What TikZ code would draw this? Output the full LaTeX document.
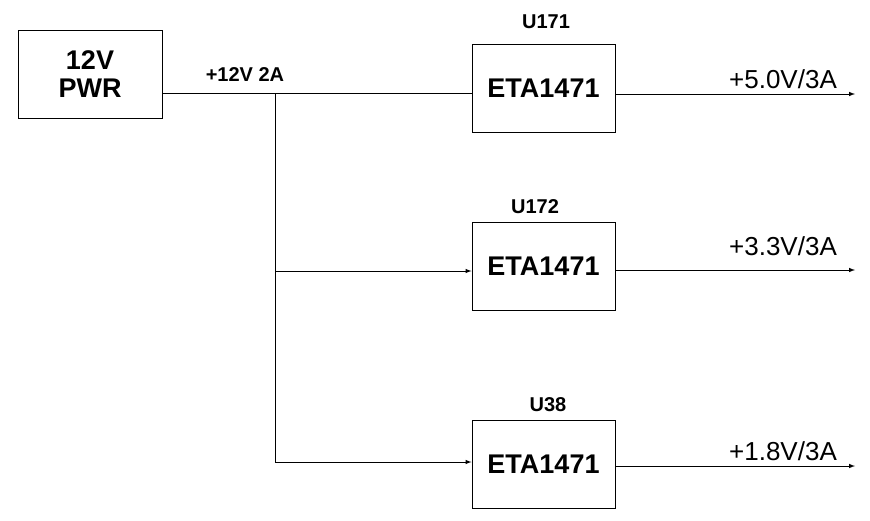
\documentclass[tikz,border=0pt]{standalone}
\usepackage{fontspec}
\setmainfont{Liberation Sans}
\usetikzlibrary{arrows, positioning}
\tikzset{
  blk/.style = {draw, line width=1pt, minimum width=143pt, minimum height=88pt, font=\fontsize{27}{30}\selectfont\bfseries},
  tag/.style = {font=\fontsize{20}{22}\selectfont\bfseries},
  vout/.style = {font=\fontsize{26}{28}\selectfont},
  link/.style = {line width=1pt},
  arr/.style = {line width=1pt, -latex}
}
\begin{document}
\begin{tikzpicture}[x=1pt, y=-1pt]
    \useasboundingbox (0,0) rectangle (870,520);
    \node[blk, minimum width=144pt, align=center, font=\fontsize{27}{28}\selectfont\bfseries] (pwr) at (90,74) {12V\\PWR};
    \node[blk] (u171) at (543.5,88) {ETA1471};
    \node[blk] (u172) at (543.5,266) {ETA1471};
    \node[blk] (u38) at (543.5,464) {ETA1471};
    \node[tag] (t171) at (546,22) {U171};
    \node[tag] (t172) at (535,207) {U172};
    \node[tag] (t38) at (548,405) {U38};
    \node[tag] (in) at (245,75) {+12V 2A};
    \coordinate (j1) at (275,93);
    \coordinate (j2) at (275,271);
    \coordinate (j3) at (275,462);
    \coordinate (o1) at (855,94);
    \coordinate (o2) at (855,270);
    \coordinate (o3) at (855,466);
    % input bus
    \draw[link] (pwr.east |- j1) -- (u171.west |- j1);
    \draw[link] (j1) -- (j3);
    \draw[arr] (j2) -- (u172.west |- j2);
    \draw[arr] (j3) -- (u38.west |- j3);
    % outputs
    \draw[arr] (u171.east |- o1) -- (o1);
    \draw[arr] (u172.east |- o2) -- (o2);
    \draw[arr] (u38.east |- o3) -- (o3);
    \node[vout] (l1) at (783,79) {+5.0V/3A};
    \node[vout] (l2) at (783,246) {+3.3V/3A};
    \node[vout] (l3) at (783,451) {+1.8V/3A};
\end{tikzpicture}
\end{document}
